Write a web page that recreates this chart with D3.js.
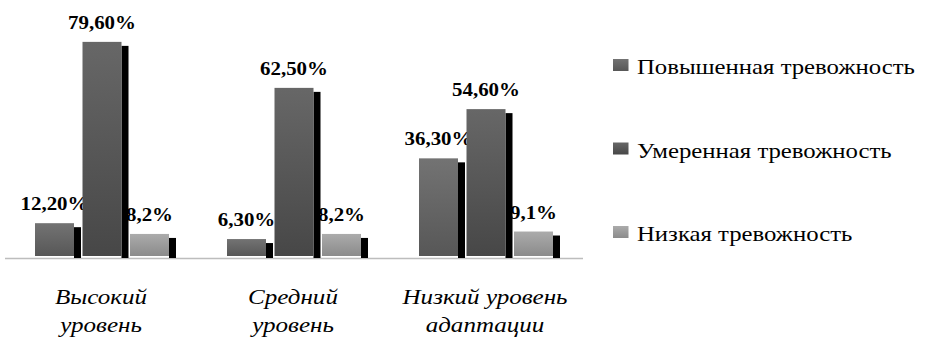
<!DOCTYPE html>
<html>
<head>
<meta charset="utf-8">
<script src="https://cdn.jsdelivr.net/npm/d3@7"></script>
<style>
  html, body { margin: 0; padding: 0; background: #fff; }
  svg { display: block; }
</style>
</head>
<body>
<svg id="chart" width="925" height="343"></svg>
<script>
// Adaptation level groups (two-line italic labels)
const categories = ["Высокий уровень", "Средний уровень", "Низкий уровень адаптации"];
const categoryLines = [["Высокий", "уровень"], ["Средний", "уровень"], ["Низкий уровень", "адаптации"]];
const series = ["Повышенная тревожность", "Умеренная тревожность", "Низкая тревожность"];
// Percent values per series, one entry per category
const elevated = [12.2, 6.3, 36.3];
const moderate = [79.6, 62.5, 54.6];
const low = [8.2, 8.2, 9.1];
const valueLabels = [
  ["12,20%", "6,30%", "36,30%"],
  ["79,60%", "62,50%", "54,60%"],
  ["8,2%", "8,2%", "9,1%"]
];
const values = [elevated, moderate, low];

const SERIF = '"Liberation Serif", "Times New Roman", Tinos, serif';
const svg = d3.select("#chart");
const defs = svg.append("defs");
const grads = [["#737373", "#575757"], ["#676767", "#474747"], ["#ababab", "#8b8b8b"]];
grads.forEach((g, i) => {
  const lg = defs.append("linearGradient").attr("id", "g" + i)
    .attr("x1", 0).attr("y1", 0).attr("x2", 0).attr("y2", 1);
  lg.append("stop").attr("offset", "0%").attr("stop-color", g[0]);
  lg.append("stop").attr("offset", "100%").attr("stop-color", g[1]);
});

// Horizontal stretch so a sample string spans a given width
function stretchFor(txt, size, weight, fstyle, width) {
  const t = svg.append("text")
    .style("font-family", SERIF).style("font-size", size + "px")
    .style("font-weight", weight).style("font-style", fstyle).text(txt);
  const w = t.node().getComputedTextLength();
  t.remove();
  return width / w;
}

function label(parent, x, y, txt, opts) {
  return parent.append("text")
    .attr("transform", `translate(${x},${y}) scale(${opts.sx},1)`)
    .attr("text-anchor", opts.anchor || "middle")
    .style("font-family", SERIF)
    .style("font-size", opts.size + "px")
    .style("font-weight", opts.weight || "normal")
    .style("font-style", opts.style || "normal")
    .attr("fill", "#000")
    .text(txt);
}

const sxValue = stretchFor("79,60%", 19, "bold", "normal", 68);
const sxCat = stretchFor("Высокий", 21, "normal", "italic", 92);
const sxLegend = stretchFor(series[0], 22, "normal", "normal", 278);

const baseline = 256;
const x0 = d3.scaleBand().domain(categories).range([7, 583]);
const x1 = d3.scaleBand().domain(series).range([28, 162]).paddingInner(0.179);
const y = d3.scaleLinear().domain([0, 100]).range([baseline, baseline - 269]);

// Axis line
svg.append("line")
  .attr("x1", 5).attr("x2", 583)
  .attr("y1", baseline + 2.5).attr("y2", baseline + 2.5)
  .attr("stroke", "#bdbdbd").attr("stroke-width", 1.5);

const groups = svg.selectAll("g.grp").data(categories).enter().append("g")
  .attr("class", "grp")
  .attr("transform", d => `translate(${x0(d)},0)`);

groups.each(function(cat, ci) {
  const g = d3.select(this);
  series.forEach((s, si) => {
    const v = values[si][ci];
    const bx = x1(s), bw = x1.bandwidth();
    // Shadow strip to the right of each bar
    g.append("rect")
      .attr("x", bx + bw).attr("y", y(v) + 4)
      .attr("width", 7).attr("height", baseline + 2 - (y(v) + 4))
      .attr("fill", "#000");
    g.append("rect")
      .attr("x", bx).attr("y", y(v))
      .attr("width", bw).attr("height", baseline - y(v))
      .attr("fill", `url(#g${si})`);
    label(g, bx + bw / 2, y(v) - 13, valueLabels[si][ci], { size: 19, weight: "bold", sx: sxValue });
  });
  categoryLines[ci].forEach((ln, li) => {
    label(g, x0.bandwidth() / 2 - 2, 303.5 + li * 28, ln, { size: 21, style: "italic", sx: sxCat });
  });
});

// Legend
const legendY = [74, 157.5, 241];
const lg = svg.selectAll("g.leg").data(series).enter().append("g")
  .attr("class", "leg")
  .attr("transform", (d, i) => `translate(613,${legendY[i]})`);
lg.append("rect").attr("x", 0).attr("y", -15).attr("width", 15.5).attr("height", 12)
  .attr("fill", (d, i) => `url(#g${i})`);
lg.each(function(d) {
  label(d3.select(this), 24, 0, d, { size: 22, anchor: "start", sx: sxLegend });
});
</script>
</body>
</html>
